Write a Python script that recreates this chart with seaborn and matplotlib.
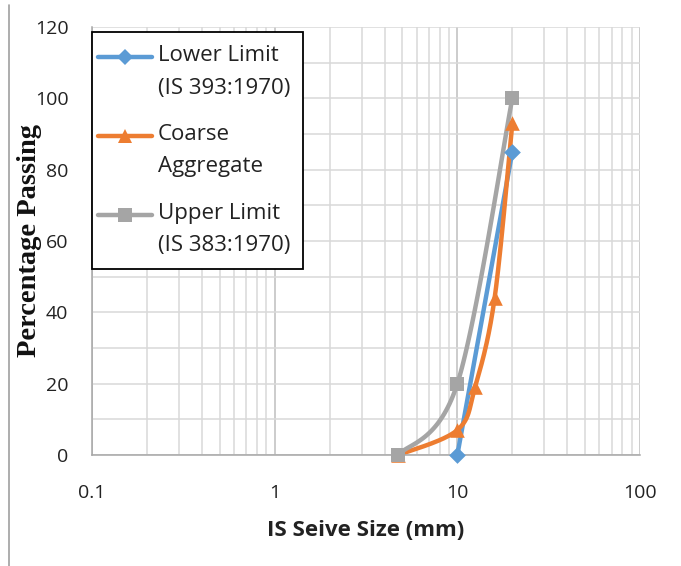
import numpy as np
import pandas as pd
import matplotlib
matplotlib.use("Agg")
import matplotlib.pyplot as plt
import seaborn as sns
from matplotlib.lines import Line2D
from matplotlib.legend_handler import HandlerLine2D
from matplotlib.ticker import FixedLocator, NullFormatter, FuncFormatter, MultipleLocator

# ---------------- data ----------------
lower_sizes = [10, 20]
lower_pass = [0, 85]
coarse_sizes = [4.75, 10, 12.5, 16, 20]
coarse_pass = [0, 7, 19, 44, 93]
upper_sizes = [4.75, 10, 20]
upper_pass = [0, 20, 100]

series_names = ["Lower Limit\n(IS 393:1970)", "Coarse\nAggregate", "Upper Limit\n(IS 383:1970)"]
series_colors = ["#5B9BD5", "#ED7D31", "#A5A5A5"]
series_markers = ["D", "^", "s"]
x_ticks = [0.1, 1, 10, 100]
y_ticks = [0, 20, 40, 60, 80, 100, 120]

sns.set_style("white")
plt.rcParams["font.family"] = ["Open Sans", "DejaVu Sans"]


def smooth(xs, ys, n=40):
    """Excel-like smoothed line (Catmull-Rom Bezier) in log-x space."""
    pts = np.column_stack([np.log10(xs), np.asarray(ys, float)])
    out = []
    for i in range(len(pts) - 1):
        p0 = pts[max(i - 1, 0)]
        p1 = pts[i]
        p2 = pts[i + 1]
        p3 = pts[min(i + 2, len(pts) - 1)]
        c1 = p1 + (p2 - p0) / 6.0
        c2 = p2 - (p3 - p1) / 6.0
        t = np.linspace(0, 1, n)[:, None]
        seg = (1 - t) ** 3 * p1 + 3 * (1 - t) ** 2 * t * c1 + 3 * (1 - t) * t ** 2 * c2 + t ** 3 * p2
        out.append(seg if i == 0 else seg[1:])
    c = np.vstack(out)
    return 10 ** c[:, 0], c[:, 1]


fig = plt.figure(figsize=(6.81, 5.66), dpi=100)
ax = fig.add_axes([92 / 681, (566 - 455) / 566, (640 - 92) / 681, (455 - 27) / 566])

ax.set_xscale("log")
ax.set_xlim(0.1, 100)
ax.set_ylim(0, 120)

data = [(lower_sizes, lower_pass), (coarse_sizes, coarse_pass), (upper_sizes, upper_pass)]
msizes = {"D": 8.5, "^": 10.5, "s": 10.5}
for (xs, ys), name, col, mk in zip(data, series_names, series_colors, series_markers):
    cx, cy = smooth(xs, ys)
    curve = pd.DataFrame({"x": cx, "y": cy})
    sns.lineplot(data=curve, x="x", y="y", sort=False, estimator=None, ax=ax,
                 color=col, lw=3.2, solid_capstyle="round", legend=False)
    pts = pd.DataFrame({"x": xs, "y": ys})
    sns.scatterplot(data=pts, x="x", y="y", ax=ax, marker=mk, s=msizes[mk] ** 2,
                    color=col, linewidth=0, clip_on=False, legend=False, zorder=3)

# grid
ax.xaxis.set_minor_locator(FixedLocator([m * 10.0 ** e for e in range(-1, 2) for m in range(2, 10)]))
ax.xaxis.set_minor_formatter(NullFormatter())
ax.xaxis.set_major_locator(FixedLocator(x_ticks))
ax.xaxis.set_major_formatter(FuncFormatter(lambda v, p: f"{v:g}"))
ax.yaxis.set_major_locator(FixedLocator(y_ticks))
ax.yaxis.set_minor_locator(MultipleLocator(10))
ax.grid(which="minor", color="#D9D9D9", lw=1.1)
ax.grid(which="major", axis="y", color="#D9D9D9", lw=1.1)
ax.grid(which="major", axis="x", color="#BFBFBF", lw=1.1)
ax.set_axisbelow(True)

for s in ["top", "right"]:
    ax.spines[s].set_visible(False)
for s in ["left", "bottom"]:
    ax.spines[s].set_color("#A6A6A6")
    ax.spines[s].set_linewidth(1.1)

ax.tick_params(axis="both", which="major", direction="out", length=6, width=1.1,
               color="#A6A6A6", labelsize=14, labelcolor="#222222")
ax.tick_params(axis="x", which="major", pad=15)
ax.tick_params(axis="y", which="major", pad=11)
ax.tick_params(which="minor", length=0)

ax.set_xlabel("IS Seive Size (mm)", fontsize=16, fontweight="bold", color="#222222")
ax.xaxis.label.set_va("center")
ax.xaxis.set_label_coords(0.5, (455 - 530) / 428)
ax.set_ylabel("Percentage Passing", fontsize=20.5, fontweight="bold", color="#111111",
              family=["Liberation Serif", "DejaVu Serif"])
ax.yaxis.label.set_va("center")
ax.yaxis.set_label_coords(-62 / 548, 0.5)


class TopHandler(HandlerLine2D):
    """Line handle aligned with the first line of a two-line label (as Excel does)."""

    def __init__(self, shift, ext, **kw):
        super().__init__(**kw)
        self.shift = shift
        self.ext = ext

    def create_artists(self, legend, orig_handle, xdescent, ydescent, width, height, fontsize, trans):
        arts = super().create_artists(legend, orig_handle, xdescent, ydescent, width, height, fontsize, trans)
        for a in arts:
            xd = np.asarray(a.get_xdata(), float)
            if len(xd) == 3:
                x0 = xd[0] - self.ext
                a.set_xdata([x0, (x0 + xd[-1]) / 2, xd[-1]])
            elif len(xd) == 1:
                a.set_xdata(xd - self.ext / 2)
            elif len(xd) == 2:
                a.set_xdata([xd[0] - self.ext, xd[-1]])
            a.set_ydata(np.asarray(a.get_ydata(), float) + self.shift)
        return arts


handles = [Line2D([0], [0], color=c, lw=3.2, marker=m, markersize=msizes[m], markeredgewidth=0)
           for c, m in zip(series_colors, series_markers)]
hmap = {h: TopHandler(shift=10.8, ext=5.6, numpoints=1) for h in handles}
leg = ax.legend(handles, series_names, loc="upper left",
                bbox_to_anchor=(92 / 681, 1 - 32 / 566), bbox_transform=fig.transFigure,
                borderaxespad=0, fontsize=16, handlelength=2.1, handletextpad=0.25,
                borderpad=0.6, labelspacing=1.15, fancybox=False, framealpha=1,
                edgecolor="black", handler_map=hmap)
leg.get_frame().set_linewidth(1.3)
for t in leg.get_texts():
    t.set_linespacing(1.7)
    t.set_color("#222222")

# left border line of the original figure
fig.add_artist(Line2D([8.5 / 681, 8.5 / 681], [0, 1 - 5 / 566], transform=fig.transFigure,
                      color="#A0A0A0", lw=1.2))

fig.savefig("out.png", dpi=100)
